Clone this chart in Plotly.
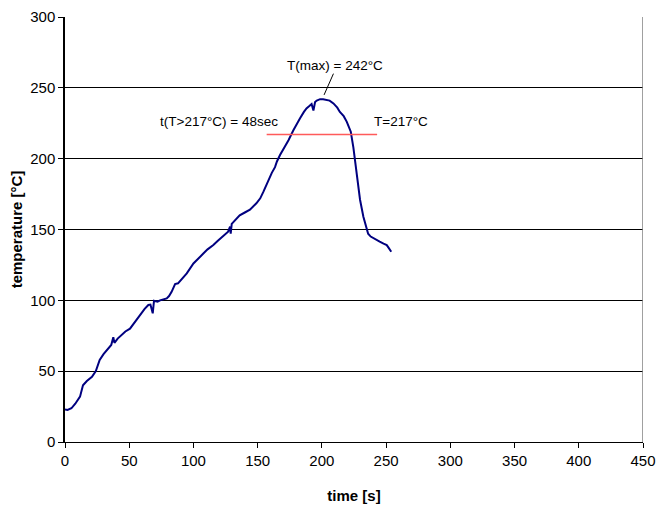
import plotly.graph_objects as go

time_s = [0, 2, 5, 8, 11.7, 14, 17, 21, 24, 27, 30, 32.5, 36, 37.6, 38.5, 41, 44, 47, 50.6,
          54.5, 57, 59.7, 62, 64.9, 66.5, 68.3, 69.3, 72, 74, 79.2, 81, 83, 85.7, 88, 91,
          94.8, 100, 105, 107.7, 111, 115.5, 119, 123, 127, 128.5, 129, 129.8, 133, 136,
          140, 144, 149, 152, 154.5, 156, 158.3, 161, 163.5, 165, 167.4, 171, 174, 177.8,
          180, 183, 186, 188, 190, 192, 193.4, 194.7, 196, 198.6, 201, 203.8, 206, 209,
          212, 214, 217, 219.4, 222.5, 224.5, 227, 229.7, 232.3, 236, 238, 240, 243, 245,
          248, 250.5, 252, 254]
temp_c = [23, 22.6, 23.8, 27, 32, 40, 43, 46, 50, 58, 62, 65, 68.5, 74, 70, 73, 75.5, 78, 80,
          85, 88, 91, 94, 96.7, 97, 90.8, 99.7, 99, 100, 101.4, 103, 106, 111.5, 112, 115,
          119, 126, 131, 133, 136, 139, 142, 145, 148.5, 152, 147, 154, 157, 160,
          162, 164, 168.5, 172, 176.7, 180, 185, 190, 194, 198, 202.6, 208, 213, 220,
          224, 228.5, 233, 235.5, 237, 238.6, 234, 240, 241, 242, 242, 241.4, 241, 239,
          236, 233, 230, 226, 219, 208, 189.7, 171, 159, 147, 145, 143.8, 142.5, 141.4,
          140, 139, 137, 134.3]

limit_t = [157, 243]
limit_T = [217, 217]

x_ticks = [0, 50, 100, 150, 200, 250, 300, 350, 400, 450]
y_ticks = [0, 50, 100, 150, 200, 250, 300]

FONT = "Liberation Sans, Arial, sans-serif"

fig = go.Figure()
fig.add_trace(go.Scatter(x=time_s, y=temp_c, mode="lines",
                         line=dict(color="#000080", width=2), showlegend=False))
fig.add_trace(go.Scatter(x=limit_t, y=limit_T, mode="lines",
                         line=dict(color="#FF5A5A", width=1.5), showlegend=False))

fig.update_layout(
    width=659, height=515,
    margin=dict(l=65, r=16, t=17, b=73, autoexpand=False),
    paper_bgcolor="white", plot_bgcolor="white",
    font=dict(family=FONT, size=15, color="black"),
    xaxis=dict(range=[0, 450], tickvals=x_ticks, showgrid=False, zeroline=False,
               showline=True, linecolor="black", linewidth=1,
               ticks="outside", ticklen=5, tickcolor="black", automargin=False,
               title=dict(text="<b>time [s]</b>", font=dict(size=15), standoff=22)),
    yaxis=dict(range=[0, 300], tickvals=y_ticks, showgrid=True, gridcolor="black",
               gridwidth=1, zeroline=False, showline=True, linecolor="black",
               linewidth=1.5, ticks="outside", ticklen=5, tickcolor="black", automargin=False,
               title=dict(text="<b>temperature [°C]</b>", font=dict(size=15), standoff=4)),
)

# right plot-area border (grey)
fig.add_shape(type="line", xref="x", yref="y", x0=450, x1=450, y0=0, y1=300,
              line=dict(color="#808080", width=1.5))
# leader line for max annotation
fig.add_shape(type="line", xref="x", yref="y", x0=201.7, y0=245, x1=209, y1=260,
              line=dict(color="black", width=1))

fig.add_annotation(x=210, y=266, xref="x", yref="y", text="T(max) = 242°C",
                   showarrow=False, font=dict(size=13.5))
fig.add_annotation(x=167.5, y=226, xref="x", yref="y", text="t(T>217°C) = 48sec",
                   showarrow=False, xanchor="right", font=dict(size=13.5))
fig.add_annotation(x=239, y=226, xref="x", yref="y", text="T=217°C",
                   showarrow=False, xanchor="left", font=dict(size=13.5))

fig.write_html("out.html")
